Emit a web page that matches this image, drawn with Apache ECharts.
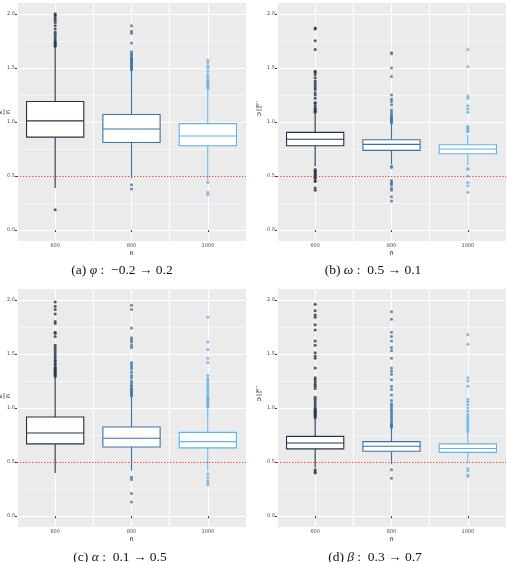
<!DOCTYPE html>
<html>
<head>
<meta charset="utf-8">
<script src="https://cdn.jsdelivr.net/npm/echarts@6/dist/echarts.min.js"></script>
<style>
  html, body { margin: 0; padding: 0; background: #fff; }
  #main { width: 507px; height: 562px; }
</style>
</head>
<body>
<div id="main"></div>
<script>
// x categories (sample size n)
const categories = ["600", "800", "1000"];
const yTicks = [0, 0.5, 1, 1.5, 2];
const yMinor = [0.25, 0.75, 1.25, 1.75];
const refLine = 0.5;

// boxes: [lower whisker, Q1, median, Q3, upper whisker] for 600 / 800 / 1000
const boxA = [[0.39, 0.86, 1.01, 1.19, 1.70], [0.48, 0.81, 0.935, 1.07, 1.47], [0.46, 0.78, 0.87, 0.985, 1.30]];
const boxB = [[0.59, 0.781, 0.84, 0.904, 1.08], [0.61, 0.738, 0.793, 0.836, 0.98], [0.60, 0.707, 0.75, 0.79, 0.88]];
const boxC = [[0.40, 0.668, 0.769, 0.917, 1.28], [0.42, 0.64, 0.72, 0.825, 1.10], [0.42, 0.631, 0.689, 0.775, 1.00]];
const boxD = [[0.45, 0.622, 0.677, 0.738, 0.90], [0.48, 0.60, 0.646, 0.689, 0.81], [0.49, 0.59, 0.625, 0.668, 0.77]];

// outliers for 600 / 800 / 1000
const outA = [
  [1.70, 1.71, 1.72, 1.73, 1.74, 1.75, 1.77, 1.79, 1.81, 1.83, 1.86, 1.89, 1.92, 1.94, 1.96, 1.98, 1.99, 2.00, 0.19],
  [1.48, 1.49, 1.50, 1.51, 1.52, 1.53, 1.54, 1.55, 1.56, 1.57, 1.58, 1.59, 1.60, 1.62, 1.63, 1.65, 1.73, 1.82, 1.84, 1.89, 0.42, 0.38],
  [1.31, 1.32, 1.33, 1.34, 1.35, 1.36, 1.37, 1.38, 1.40, 1.42, 1.44, 1.47, 1.50, 1.52, 1.55, 1.57, 0.44, 0.35, 0.33]
];
const outB = [
  [1.09, 1.10, 1.11, 1.12, 1.13, 1.15, 1.17, 1.18, 1.22, 1.25, 1.27, 1.30, 1.32, 1.34, 1.36, 1.38, 1.41, 1.44, 1.46, 1.47, 1.67, 1.75, 1.86, 1.87,
   0.56, 0.55, 0.54, 0.53, 0.52, 0.51, 0.50, 0.49, 0.48, 0.46, 0.45, 0.39, 0.37],
  [0.99, 1.00, 1.01, 1.02, 1.03, 1.04, 1.05, 1.07, 1.09, 1.11, 1.16, 1.19, 1.21, 1.25, 1.42, 1.50, 1.63, 1.64,
   0.59, 0.58, 0.46, 0.44, 0.43, 0.42, 0.39, 0.37, 0.31, 0.27],
  [0.91, 0.92, 0.93, 0.94, 0.95, 0.96, 1.09, 1.12, 1.15, 1.22, 1.24, 1.51, 1.67, 0.57, 0.56, 0.50, 0.44, 0.41, 0.35]
];
const outC = [
  [1.29, 1.30, 1.31, 1.32, 1.33, 1.34, 1.35, 1.36, 1.37, 1.38, 1.40, 1.41, 1.43, 1.44, 1.46, 1.48, 1.50, 1.52, 1.54, 1.56, 1.58,
   1.66, 1.69, 1.70, 1.78, 1.80, 1.87, 1.91, 1.94, 1.98],
  [1.11, 1.12, 1.13, 1.14, 1.15, 1.16, 1.17, 1.18, 1.20, 1.21, 1.23, 1.25, 1.28, 1.30, 1.33, 1.36, 1.38, 1.40, 1.42,
   1.56, 1.58, 1.61, 1.63, 1.65, 1.74, 1.91, 1.95, 0.36, 0.34, 0.21, 0.13],
  [1.01, 1.02, 1.03, 1.04, 1.05, 1.06, 1.07, 1.08, 1.09, 1.10, 1.12, 1.14, 1.16, 1.18, 1.20, 1.22, 1.24, 1.26, 1.27, 1.30,
   1.42, 1.46, 1.54, 1.61, 1.84, 0.39, 0.36, 0.33, 0.31, 0.29]
];
const outD = [
  [0.91, 0.92, 0.93, 0.94, 0.95, 0.96, 0.97, 0.98, 0.99, 1.00, 1.02, 1.04, 1.06, 1.08, 1.10, 1.18, 1.20, 1.22, 1.24, 1.26, 1.28,
   1.37, 1.46, 1.48, 1.51, 1.58, 1.62, 1.72, 1.77, 1.84, 1.86, 1.90, 1.96, 0.43, 0.41, 0.40],
  [0.82, 0.83, 0.84, 0.85, 0.86, 0.88, 0.90, 0.92, 0.94, 0.96, 0.98, 1.00, 1.02, 1.04, 1.07, 1.12, 1.17, 1.20, 1.26, 1.31,
   1.34, 1.37, 1.46, 1.53, 1.56, 1.62, 1.66, 1.70, 1.82, 1.89, 0.43, 0.35],
  [0.78, 0.80, 0.82, 0.84, 0.86, 0.88, 0.90, 0.92, 0.94, 0.97, 1.00, 1.03, 1.06, 1.08, 1.20, 1.25, 1.28, 1.59, 1.68,
   0.44, 0.42, 0.38, 0.37]
];

const boxColors = ["#1f3447", "#3a72a2", "#5fb2ea"];
const refColor = "#f0483a";

const panels = [
  { box: boxA, out: outA, left: 17, top: 3, cap: ["(a) ", "φ", " :  −0.2 → 0.2"], capX: 122, capY: 270, labX: 4, labY: 112, rot: true },
  { box: boxB, out: outB, left: 277, top: 3, cap: ["(b) ", "ω", " :  0.5 → 0.1"], capX: 373, capY: 270, labX: 259, labY: 110, rot: false },
  { box: boxC, out: outC, left: 17, top: 289, cap: ["(c) ", "α", " :  0.1 → 0.5"], capX: 120, capY: 557, labX: 4, labY: 396, rot: true },
  { box: boxD, out: outD, left: 277, top: 289, cap: ["(d) ", "β", " :  0.3 → 0.7"], capX: 375, capY: 557, labX: 259, labY: 395, rot: false }
];

function renderBox(params, api) {
  const i = api.value(0);
  const lo = api.coord([i, api.value(1)]);
  const q1 = api.coord([i, api.value(2)]);
  const md = api.coord([i, api.value(3)]);
  const q3 = api.coord([i, api.value(4)]);
  const hi = api.coord([i, api.value(5)]);
  const w = api.size([1, 0])[0] * 0.75;
  const c = boxColors[i];
  const st = { stroke: c, lineWidth: 1.1, fill: null };
  return {
    type: "group",
    children: [
      { type: "line", shape: { x1: lo[0], y1: lo[1], x2: q1[0], y2: q1[1] }, style: st },
      { type: "line", shape: { x1: q3[0], y1: q3[1], x2: hi[0], y2: hi[1] }, style: st },
      { type: "rect", shape: { x: q3[0] - w / 2, y: q3[1], width: w, height: q1[1] - q3[1] },
        style: { fill: "#fff", stroke: c, lineWidth: 1.1 } },
      { type: "line", shape: { x1: md[0] - w / 2, y1: md[1], x2: md[0] + w / 2, y2: md[1] }, style: st }
    ]
  };
}

const grids = [], xAxes = [], yAxes = [], series = [], graphics = [];
const tickFont = { fontSize: 5, color: "#4d4d4d", fontFamily: "DejaVu Sans" };

panels.forEach((p, g) => {
  grids.push({ left: p.left, top: p.top, width: 229, height: 238, show: true,
    backgroundColor: "#ebebeb", borderWidth: 0 });
  // category axis (labels)
  xAxes.push({ type: "category", gridIndex: g, data: categories,
    axisLine: { show: false },
    axisTick: { show: true, alignWithLabel: true, length: 2, lineStyle: { color: "#333" } },
    axisLabel: Object.assign({ margin: 2 }, tickFont),
    splitLine: { show: false },
    name: "n", nameLocation: "middle", nameGap: 9,
    nameTextStyle: { fontSize: 6.5, color: "#222", fontFamily: "DejaVu Sans" } });
  // vertical grid lines at centres and boundaries
  xAxes.push({ type: "value", gridIndex: g, min: 0, max: 6, interval: 1,
    axisLine: { show: false }, axisTick: { show: false }, axisLabel: { show: false },
    splitLine: { show: true, lineStyle: { color: "#fff", width: 1 } } });
  yAxes.push({ type: "value", gridIndex: g, min: -0.1, max: 2.1,
    axisLine: { show: false },
    axisTick: { show: true, length: 2, customValues: yTicks, lineStyle: { color: "#333" } },
    axisLabel: Object.assign({ margin: 2, customValues: yTicks, formatter: v => v.toFixed(1) }, tickFont),
    splitLine: { show: true, lineStyle: { color: "#fff", width: 1 } } });
  yAxes.push({ type: "value", gridIndex: g, min: -0.1, max: 2.1,
    axisLine: { show: false },
    axisTick: { show: false, customValues: yMinor },
    axisLabel: { show: false },
    splitLine: { show: true, lineStyle: { color: "#fff", width: 0.5 } } });

  series.push({
    type: "custom", xAxisIndex: 2 * g, yAxisIndex: 2 * g,
    renderItem: renderBox,
    encode: { x: 0, y: [1, 2, 3, 4, 5] },
    data: p.box.map((b, i) => [i].concat(b)),
    z: 3
  });
  const pts = [];
  p.out.forEach((list, i) => list.forEach(v => pts.push({ value: [i, v], itemStyle: { color: boxColors[i] } })));
  series.push({
    type: "scatter", xAxisIndex: 2 * g, yAxisIndex: 2 * g,
    symbolSize: 3, data: pts, z: 4, silent: true,
    markLine: { silent: true, symbol: "none", label: { show: false },
      itemStyle: { color: refColor },
      lineStyle: { color: refColor, type: [1.5, 1.5], width: 1, opacity: 1 },
      emphasis: { disabled: true },
      data: [{ yAxis: refLine, lineStyle: { color: refColor } }] }
  });

  // caption
  graphics.push({ type: "text", x: p.capX, y: p.capY,
    style: { text: "{n|" + p.cap[0] + "}{i|" + p.cap[1] + "}{n|" + p.cap[2] + "}",
      align: "center", verticalAlign: "middle",
      rich: { n: { fontSize: 13.5, fontFamily: "Liberation Serif", fill: "#111" },
              i: { fontSize: 13.5, fontFamily: "Liberation Serif", fontStyle: "italic", fill: "#111" } } } });
  // y-axis title as a small fraction
  graphics.push({ type: "group", x: p.labX, y: p.labY, rotation: p.rot ? Math.PI / 2 : 0,
    children: [
      { type: "text", x: 0, y: -0.6, style: { text: p.rot ? "k̂" : "k̂ₛ", fontSize: 6.5, fontFamily: "DejaVu Sans",
        fill: "#222", align: "center", verticalAlign: "bottom" } },
      { type: "line", shape: { x1: -3, y1: 0, x2: 3, y2: 0 }, style: { stroke: "#222", lineWidth: 0.6 } },
      { type: "text", x: 0, y: 0.8, style: { text: "n", fontSize: 6.5, fontFamily: "DejaVu Sans",
        fill: "#222", align: "center", verticalAlign: "top" } }
    ] });
});

const myChart = echarts.init(document.getElementById("main"), null, { renderer: "canvas" });
myChart.setOption({
  animation: false,
  grid: grids,
  xAxis: xAxes,
  yAxis: yAxes,
  series: series,
  graphic: graphics
});
</script>
</body>
</html>
